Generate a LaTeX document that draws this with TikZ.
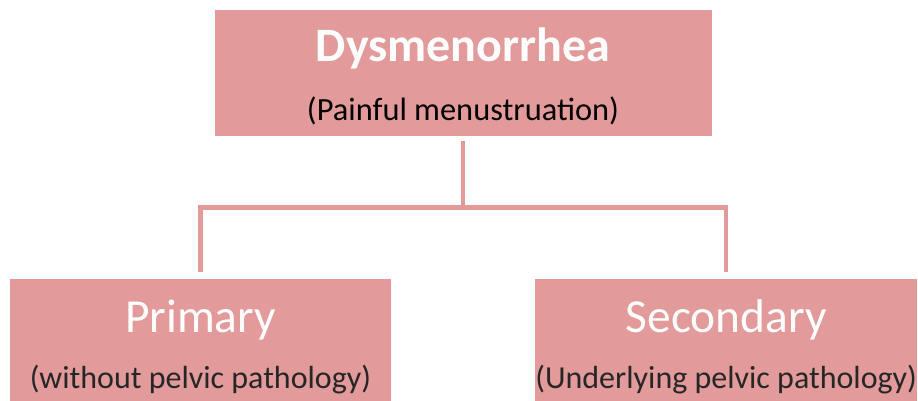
\documentclass[tikz,border=0pt]{standalone}
\usepackage{fontspec}
\setmainfont{Carlito}
\usepackage{tikz}
\usetikzlibrary{positioning}
\definecolor{rosefill}{RGB}{226,154,155}
\definecolor{darktext}{RGB}{38,38,38}
\tikzstyle{topblock} = [rectangle, fill=rosefill, 
    minimum width=497pt, minimum height=126pt, 
    text height=96pt, text depth=0pt, 
    align=center, inner sep=0pt, font=\fontsize{32.4}{59}\selectfont]
\tikzstyle{block} = [rectangle, fill=rosefill, 
    minimum width=381pt, minimum height=136pt, 
    text height=82pt, text depth=0pt, 
    align=center, inner sep=0pt, text=darktext, 
    font=\fontsize{32}{56}\selectfont]
\tikzstyle{line} = [draw=rosefill, line width=4.5pt]
\newcommand{\boxtitle}[1]{{\color{white}\fontsize{47.4}{47.4}\selectfont #1}}

\begin{document}
\begin{tikzpicture}[x=1pt, y=1pt]
            \useasboundingbox (0,0) rectangle (918,-401);
            \node [topblock] (dysmen) at (463,-73) 
            {{\color{white}\fontsize{48}{48}\selectfont\bfseries Dysmenorrhea}\\(Painful menustruation)};
            \node [block] (primary) at (200.5,-347) 
            {\boxtitle{Primary}\\(without pelvic pathology)};
            \node [block, right=144pt of primary] (secondary) 
            {\boxtitle{Secondary}\\(Underlying pelvic pathology)};
            \coordinate (fork) at (463,-207.5);
            \draw [line] ([yshift=-5pt]dysmen.south) -- (fork);
            \draw [line] (fork) -| ([yshift=7pt]primary.north);
            \draw [line] (fork) -| ([yshift=7pt]secondary.north);
        \end{tikzpicture}
\end{document}
